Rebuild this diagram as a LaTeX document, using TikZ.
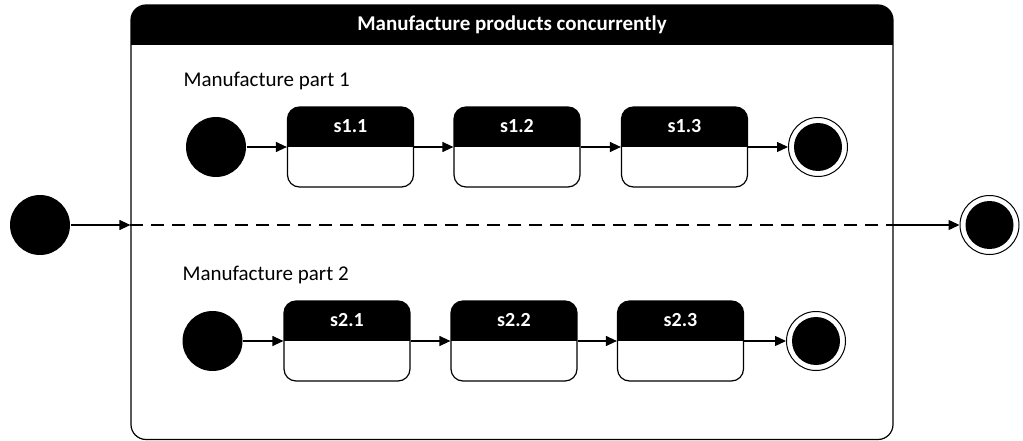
\documentclass[tikz,border=0pt]{standalone}
\usepackage{fontspec}
\setmainfont{Carlito}
\usetikzlibrary{arrows.meta,calc}

\begin{document}
\begin{tikzpicture}[x=1pt,y=-1pt,
  line width=1.2pt,
  flow/.style={-{Triangle[length=11pt,width=10pt]}},
  concurrent/.style={dash pattern=on 13pt off 8pt},
  initstate/.style={circle,fill=black,minimum size=60pt,inner sep=0pt},
  finalstate/.style={circle,draw,line width=1pt,minimum size=59pt,inner sep=0pt,
    path picture={\fill (path picture bounding box.center) circle (24pt);}},
  action/.style={rectangle,draw,rounded corners=12pt,minimum width=126pt,
    minimum height=80pt,inner sep=0pt,
    path picture={\fill[sharp corners] (path picture bounding box.north west)
      rectangle (path picture bounding box.east);},
    label={[actionlabel]90:#1}},
  actionlabel/.style={anchor=center,label distance=-20pt,text=white,
    font=\fontsize{20}{24}\bfseries\selectfont},
  regionbox/.style={rectangle,draw,rounded corners=15pt,minimum width=762pt,
    minimum height=434.5pt,inner sep=0pt,
    path picture={\fill[sharp corners] (path picture bounding box.north west)
      rectangle ([yshift=-40pt]path picture bounding box.north east);}},
  titletext/.style={text=white,font=\fontsize{21}{25}\bfseries\selectfont,inner sep=0pt},
  parttext/.style={anchor=base west,font=\fontsize{21}{25}\selectfont,inner sep=0pt}
]
\useasboundingbox (0,0) rectangle (1023,441);

% Concurrent region with its title bar
\node[regionbox] (region) at (512,222.25) {};
\node[titletext] (title) at ([yshift=-20pt]region.north) {Manufacture products concurrently};

% Outer flow: enter region, leave region
\node[initstate] (start) at (40,225) {};
\node[finalstate] (end) at (989.5,225) {};
\coordinate (enter) at (start -| region.west);
\coordinate (leave) at (start -| region.east);
\draw[flow] (start) -- (enter);
\draw[concurrent] (enter) -- (leave);
\draw[flow] (leave) -- (end);

% Part 1
\node[parttext] (part1) at (183,87) {Manufacture part 1};
\node[initstate] (i1) at (216,147) {};
\node[action=s1.1] (s11) at (350.5,147) {};
\node[action=s1.2] (s12) at (517,147) {};
\node[action=s1.3] (s13) at (684.5,147) {};
\node[finalstate] (f1) at (818,147) {};
\draw[flow] (i1) -- (s11);
\draw[flow] (s11) -- (s12);
\draw[flow] (s12) -- (s13);
\draw[flow] (s13) -- (f1);

% Part 2
\node[parttext] (part2) at (182,280) {Manufacture part 2};
\node[initstate] (i2) at (212.5,341) {};
\node[action=s2.1] (s21) at (347,341) {};
\node[action=s2.2] (s22) at (514,341) {};
\node[action=s2.3] (s23) at (680.5,341) {};
\node[finalstate] (f2) at (816,341) {};
\draw[flow] (i2) -- (s21);
\draw[flow] (s21) -- (s22);
\draw[flow] (s22) -- (s23);
\draw[flow] (s23) -- (f2);
\end{tikzpicture}
\end{document}
